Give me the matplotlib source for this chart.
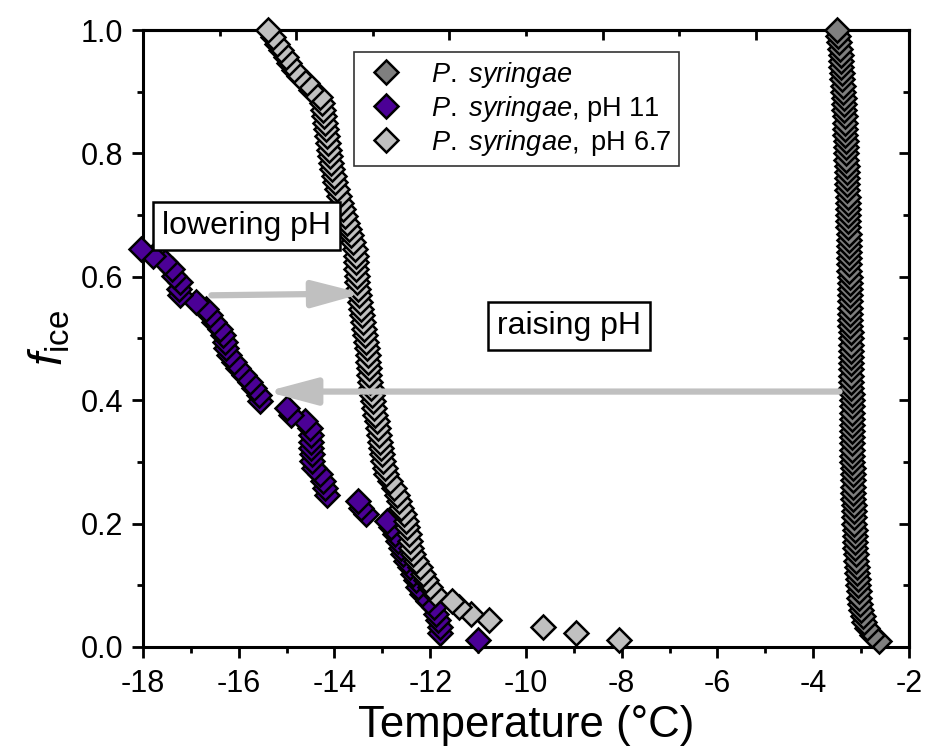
import matplotlib
matplotlib.use("Agg")
import matplotlib.pyplot as plt
from matplotlib.ticker import MultipleLocator, FixedLocator, NullFormatter

plt.rcParams['font.family'] = ['Liberation Sans', 'DejaVu Sans']
plt.rcParams['mathtext.fontset'] = 'custom'
plt.rcParams['mathtext.rm'] = 'Liberation Sans'
plt.rcParams['mathtext.it'] = 'Liberation Sans:italic'
plt.rcParams['axes.unicode_minus'] = False

# ---- droplet freezing data: fraction frozen vs temperature ---- #
# P. syringae (untreated)
T_ps = [-2.62, -2.78, -2.88, -2.94, -2.97, -3.00, -3.02, -3.04, -3.05, -3.06,
        -3.07, -3.08, -3.09, -3.10, -3.11, -3.12, -3.12, -3.13, -3.13, -3.14,
        -3.14, -3.15, -3.15, -3.16, -3.16, -3.16, -3.17, -3.17, -3.17, -3.18,
        -3.18, -3.18, -3.18, -3.19, -3.19, -3.19, -3.19, -3.20, -3.20, -3.20,
        -3.20, -3.21, -3.21, -3.21, -3.21, -3.21, -3.22, -3.22, -3.22, -3.22,
        -3.22, -3.23, -3.23, -3.23, -3.23, -3.23, -3.24, -3.24, -3.24, -3.24,
        -3.25, -3.25, -3.25, -3.25, -3.26, -3.26, -3.26, -3.27, -3.27, -3.27,
        -3.28, -3.28, -3.28, -3.29, -3.29, -3.29, -3.30, -3.30, -3.31, -3.31,
        -3.32, -3.32, -3.33, -3.33, -3.34, -3.34, -3.35, -3.35, -3.36, -3.37,
        -3.38, -3.39, -3.40, -3.41, -3.42, -3.43, -3.45, -3.46, -3.48, -3.50]
f_ps = [0.01, 0.02, 0.03, 0.04, 0.05, 0.06, 0.07, 0.08, 0.09, 0.10,
        0.11, 0.12, 0.13, 0.14, 0.15, 0.16, 0.17, 0.18, 0.19, 0.20,
        0.21, 0.22, 0.23, 0.24, 0.25, 0.26, 0.27, 0.28, 0.29, 0.30,
        0.31, 0.32, 0.33, 0.34, 0.35, 0.36, 0.37, 0.38, 0.39, 0.40,
        0.41, 0.42, 0.43, 0.44, 0.45, 0.46, 0.47, 0.48, 0.49, 0.50,
        0.51, 0.52, 0.53, 0.54, 0.55, 0.56, 0.57, 0.58, 0.59, 0.60,
        0.61, 0.62, 0.63, 0.64, 0.65, 0.66, 0.67, 0.68, 0.69, 0.70,
        0.71, 0.72, 0.73, 0.74, 0.75, 0.76, 0.77, 0.78, 0.79, 0.80,
        0.81, 0.82, 0.83, 0.84, 0.85, 0.86, 0.87, 0.88, 0.89, 0.90,
        0.91, 0.92, 0.93, 0.94, 0.95, 0.96, 0.97, 0.98, 0.99, 1.00]

# P. syringae, pH 11
T_ph11 = [-11.00, -11.80, -11.80, -11.84, -11.87, -11.93, -12.05, -12.18, -12.25, -12.30,
          -12.36, -12.42, -12.50, -12.57, -12.62, -12.67, -12.74, -12.82, -12.90, -13.35,
          -13.45, -13.50, -14.15, -14.20, -14.25, -14.30, -14.42, -14.46, -14.47, -14.48,
          -14.48, -14.50, -14.52, -14.62, -14.90, -15.00, -15.55, -15.58, -15.68, -15.77,
          -15.90, -16.02, -16.10, -16.20, -16.26, -16.28, -16.32, -16.40, -16.52, -16.60,
          -16.68, -16.90, -17.22, -17.25, -17.22, -17.35, -17.40, -17.55, -17.80, -18.05]
f_ph11 = [0.011, 0.022, 0.032, 0.043, 0.054, 0.065, 0.075, 0.086, 0.097, 0.108,
          0.118, 0.129, 0.140, 0.151, 0.161, 0.172, 0.183, 0.194, 0.204, 0.215,
          0.226, 0.237, 0.247, 0.258, 0.269, 0.280, 0.290, 0.301, 0.312, 0.323,
          0.333, 0.344, 0.355, 0.366, 0.376, 0.387, 0.398, 0.409, 0.419, 0.430,
          0.441, 0.452, 0.462, 0.473, 0.484, 0.495, 0.505, 0.516, 0.527, 0.538,
          0.548, 0.559, 0.570, 0.581, 0.591, 0.602, 0.613, 0.624, 0.634, 0.645]

# P. syringae, pH 6.7
T_ph67 = [-8.05, -8.95, -9.65, -10.78, -11.15, -11.40, -11.55, -11.90, -12.00, -12.08,
          -12.15, -12.22, -12.30, -12.36, -12.40, -12.43, -12.45, -12.48, -12.50, -12.55,
          -12.60, -12.66, -12.70, -12.75, -12.85, -12.92, -12.95, -12.98, -13.00, -13.02,
          -13.05, -13.08, -13.10, -13.12, -13.15, -13.17, -13.19, -13.21, -13.23, -13.25,
          -13.27, -13.28, -13.30, -13.31, -13.32, -13.34, -13.36, -13.38, -13.40, -13.42,
          -13.44, -13.46, -13.48, -13.50, -13.52, -13.53, -13.54, -13.55, -13.56, -13.58,
          -13.62, -13.66, -13.70, -13.74, -13.78, -13.82, -13.86, -13.90, -13.94, -13.98,
          -14.02, -14.05, -14.08, -14.10, -14.12, -14.14, -14.16, -14.18, -14.20, -14.22,
          -14.25, -14.27, -14.30, -14.48, -14.58, -14.75, -14.85, -14.95, -15.02, -15.12,
          -15.20, -15.28, -15.38]
f_ph67 = [0.011, 0.022, 0.032, 0.043, 0.054, 0.065, 0.075, 0.086, 0.097, 0.108,
          0.118, 0.129, 0.140, 0.151, 0.161, 0.172, 0.183, 0.194, 0.204, 0.215,
          0.226, 0.237, 0.247, 0.258, 0.269, 0.280, 0.290, 0.301, 0.312, 0.323,
          0.333, 0.344, 0.355, 0.366, 0.376, 0.387, 0.398, 0.409, 0.419, 0.430,
          0.441, 0.452, 0.462, 0.473, 0.484, 0.495, 0.505, 0.516, 0.527, 0.538,
          0.548, 0.559, 0.570, 0.581, 0.591, 0.602, 0.613, 0.624, 0.634, 0.645,
          0.656, 0.667, 0.677, 0.688, 0.699, 0.710, 0.720, 0.731, 0.742, 0.753,
          0.763, 0.774, 0.785, 0.796, 0.806, 0.817, 0.828, 0.839, 0.849, 0.860,
          0.871, 0.882, 0.892, 0.903, 0.914, 0.925, 0.935, 0.946, 0.957, 0.968,
          0.978, 0.989, 1.000]

labels = [r'$\it{P.}$ $\it{syringae}$',
          r'$\it{P.}$ $\it{syringae}$, pH 11',
          r'$\it{P.}$ $\it{syringae,}$ pH 6.7']
colors = ['#7f7f7f', '#4b0096', '#c0c0c0']

fig = plt.figure(figsize=(9.26, 7.56), dpi=100)
ax = fig.add_axes([0.1544, 0.1442, 0.8272, 0.8161])

ms = 12
for T, f, c, lab in [(T_ps, f_ps, colors[0], labels[0]),
                     (T_ph11, f_ph11, colors[1], labels[1]),
                     (T_ph67, f_ph67, colors[2], labels[2])]:
    ax.plot(T, f, linestyle='none', marker='D', ms=ms, mfc=c, mec='black',
            mew=1.8, label=lab, clip_on=False, zorder=3)

# arrows: lowering pH / raising pH
arrow_style = dict(arrowstyle='-|>,head_length=3.0,head_width=0.8',
                   color='#c0c0c0', lw=4.5, shrinkA=0, shrinkB=0)
ax.annotate('', xy=(-13.41, 0.573), xytext=(-16.57, 0.570),
            arrowprops=arrow_style, zorder=5)
ax.annotate('', xy=(-15.42, 0.414), xytext=(-3.45, 0.414),
            arrowprops=arrow_style, zorder=5)

box = dict(boxstyle='square,pad=0.28', fc='white', ec='black', lw=1.8)
ax.text(-15.83, 0.683, 'lowering pH', fontsize=23, ha='center', va='center',
        bbox=box, zorder=6)
ax.text(-9.1, 0.52, 'raising pH', fontsize=23, ha='center', va='center',
        bbox=box, zorder=6)

ax.set_xlim(-18, -2)
ax.set_ylim(0, 1.0)
ax.xaxis.set_major_locator(MultipleLocator(2))
ax.xaxis.set_minor_locator(MultipleLocator(1))
ax.yaxis.set_major_locator(MultipleLocator(0.2))
ax.yaxis.set_minor_locator(MultipleLocator(0.1))
ax.yaxis.set_major_formatter(matplotlib.ticker.FormatStrFormatter('%.1f'))

ax.tick_params(which='major', direction='out', length=8, width=2,
               labelsize=22, pad=6)
ax.tick_params(which='minor', direction='out', length=4, width=2)
ax.tick_params(axis='x', which='major', pad=8)

# mirrored frame ticks on top and right, pointing inward
top = ax.secondary_xaxis('top')
top.xaxis.set_major_locator(FixedLocator([-14.8, -11.6, -8.4, -5.2]))
top.xaxis.set_minor_locator(FixedLocator([-16.4, -13.2, -10.0, -6.8, -3.6]))
top.xaxis.set_major_formatter(NullFormatter())
top.tick_params(which='major', direction='in', length=7, width=2)
top.tick_params(which='minor', direction='in', length=4, width=2)
right = ax.secondary_yaxis('right')
right.yaxis.set_major_locator(MultipleLocator(0.2))
right.yaxis.set_minor_locator(MultipleLocator(0.1))
right.yaxis.set_major_formatter(NullFormatter())
right.tick_params(which='major', direction='in', length=7, width=2)
right.tick_params(which='minor', direction='in', length=4, width=2)
for a in (top, right):
    for s in a.spines.values():
        s.set_linewidth(2.2)
for s in ax.spines.values():
    s.set_linewidth(2.2)

ax.set_xlabel('Temperature (°C)', fontsize=31.5, labelpad=4)
ax.set_ylabel(r'$\it{f}_{\rm ice}$', fontsize=34, labelpad=6)

leg = ax.legend(loc='upper left', bbox_to_anchor=(0.275, 0.965), fontsize=19.5,
                frameon=True, fancybox=False, edgecolor='black',
                borderpad=0.3, labelspacing=0.15, handletextpad=0.75,
                handlelength=1.8, borderaxespad=0)
leg.get_frame().set_linewidth(1.2)
leg.set_zorder(7)

fig.savefig('out.png', dpi=100)
